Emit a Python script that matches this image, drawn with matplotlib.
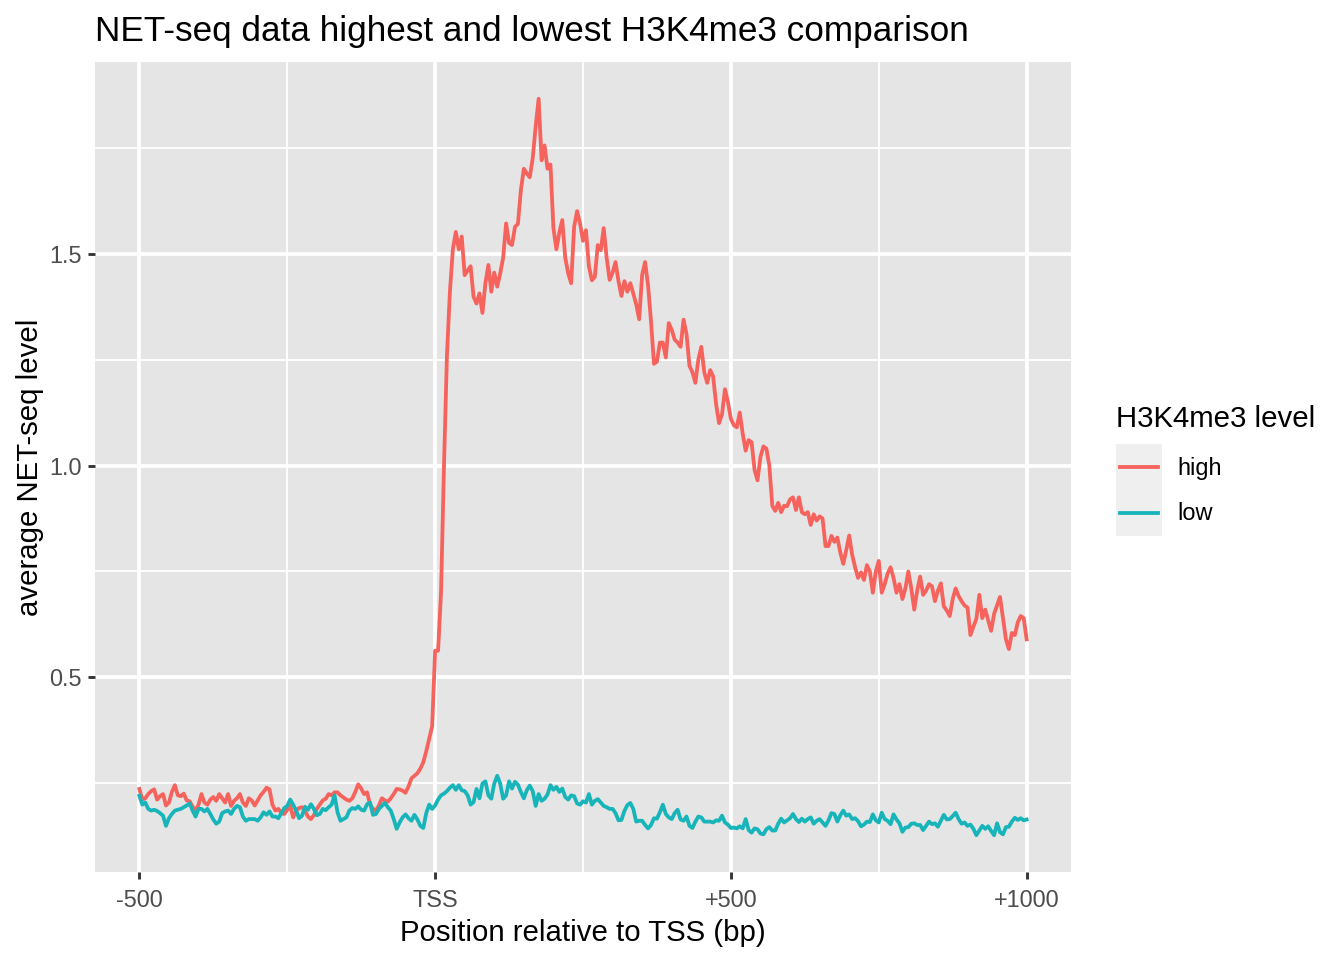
import numpy as np
import matplotlib
matplotlib.use("Agg")
import matplotlib.pyplot as plt

plt.rcParams['font.family'] = ['Liberation Sans', 'DejaVu Sans']

# positions relative to TSS, 5 bp steps
positions = np.arange(-500, 1001, 5)

high = [
    0.237, 0.212, 0.215, 0.225, 0.232, 0.236, 0.212, 0.220, 0.225, 0.198,
    0.205, 0.230, 0.246, 0.222, 0.220, 0.226, 0.210, 0.208, 0.195, 0.186,
    0.200, 0.225, 0.205, 0.200, 0.212, 0.218, 0.209, 0.225, 0.215, 0.205,
    0.225, 0.197, 0.209, 0.215, 0.225, 0.205, 0.197, 0.215, 0.210, 0.198,
    0.210, 0.222, 0.230, 0.240, 0.236, 0.200, 0.186, 0.190, 0.180, 0.178,
    0.188, 0.197, 0.170, 0.186, 0.192, 0.194, 0.185, 0.172, 0.166, 0.175,
    0.190, 0.200, 0.210, 0.214, 0.225, 0.222, 0.229, 0.229, 0.222, 0.217,
    0.212, 0.209, 0.215, 0.230, 0.248, 0.238, 0.225, 0.229, 0.200, 0.190,
    0.186, 0.198, 0.215, 0.210, 0.207, 0.215, 0.225, 0.237, 0.236, 0.233,
    0.228, 0.243, 0.262, 0.268, 0.274, 0.285, 0.300, 0.326, 0.355, 0.385,
    0.563, 0.563, 0.700, 1.000, 1.260, 1.410, 1.510, 1.551, 1.510, 1.540,
    1.449, 1.460, 1.470, 1.398, 1.382, 1.406, 1.360, 1.430, 1.473, 1.410,
    1.455, 1.422, 1.453, 1.490, 1.571, 1.525, 1.520, 1.563, 1.570, 1.650,
    1.700, 1.689, 1.680, 1.725, 1.800, 1.865, 1.720, 1.755, 1.700, 1.710,
    1.560, 1.510, 1.550, 1.579, 1.490, 1.453, 1.430, 1.563, 1.600, 1.571,
    1.530, 1.555, 1.470, 1.437, 1.445, 1.520, 1.508, 1.560, 1.490, 1.438,
    1.455, 1.480, 1.435, 1.400, 1.435, 1.410, 1.430, 1.406, 1.380, 1.345,
    1.450, 1.480, 1.425, 1.340, 1.240, 1.245, 1.290, 1.290, 1.255, 1.336,
    1.320, 1.297, 1.290, 1.280, 1.344, 1.310, 1.235, 1.220, 1.195, 1.250,
    1.280, 1.220, 1.195, 1.225, 1.210, 1.145, 1.100, 1.120, 1.180, 1.150,
    1.110, 1.095, 1.090, 1.125, 1.075, 1.035, 1.060, 1.055, 0.990, 0.965,
    1.020, 1.045, 1.040, 1.000, 0.905, 0.893, 0.912, 0.890, 0.905, 0.904,
    0.920, 0.925, 0.895, 0.925, 0.890, 0.885, 0.890, 0.860, 0.885, 0.870,
    0.880, 0.875, 0.810, 0.810, 0.834, 0.820, 0.830, 0.795, 0.768, 0.800,
    0.835, 0.790, 0.760, 0.735, 0.748, 0.730, 0.765, 0.750, 0.700, 0.750,
    0.775, 0.700, 0.720, 0.745, 0.760, 0.735, 0.700, 0.720, 0.685, 0.710,
    0.750, 0.710, 0.660, 0.705, 0.738, 0.695, 0.705, 0.720, 0.715, 0.680,
    0.705, 0.722, 0.668, 0.658, 0.645, 0.685, 0.710, 0.692, 0.680, 0.670,
    0.665, 0.600, 0.620, 0.638, 0.695, 0.640, 0.660, 0.635, 0.610, 0.650,
    0.670, 0.690, 0.640, 0.590, 0.567, 0.605, 0.600, 0.630, 0.645, 0.640,
    0.590,
]

low = [
    0.221, 0.200, 0.205, 0.190, 0.186, 0.188, 0.185, 0.180, 0.174, 0.150,
    0.168, 0.178, 0.186, 0.188, 0.190, 0.194, 0.198, 0.203, 0.186, 0.172,
    0.190, 0.190, 0.184, 0.190, 0.178, 0.165, 0.155, 0.160, 0.180, 0.184,
    0.186, 0.178, 0.190, 0.197, 0.194, 0.172, 0.162, 0.166, 0.166, 0.166,
    0.162, 0.170, 0.182, 0.176, 0.184, 0.172, 0.172, 0.168, 0.180, 0.192,
    0.197, 0.212, 0.200, 0.186, 0.168, 0.174, 0.195, 0.188, 0.201, 0.190,
    0.175, 0.178, 0.190, 0.187, 0.194, 0.200, 0.222, 0.182, 0.162, 0.166,
    0.170, 0.186, 0.192, 0.190, 0.196, 0.188, 0.186, 0.201, 0.205, 0.176,
    0.178, 0.190, 0.197, 0.204, 0.194, 0.186, 0.166, 0.143, 0.158, 0.170,
    0.177, 0.168, 0.162, 0.176, 0.165, 0.150, 0.145, 0.180, 0.200, 0.190,
    0.198, 0.212, 0.222, 0.226, 0.232, 0.240, 0.246, 0.235, 0.246, 0.234,
    0.232, 0.222, 0.200, 0.206, 0.237, 0.215, 0.250, 0.255, 0.222, 0.214,
    0.250, 0.268, 0.250, 0.214, 0.222, 0.255, 0.238, 0.254, 0.247, 0.230,
    0.215, 0.234, 0.245, 0.232, 0.197, 0.225, 0.209, 0.214, 0.224, 0.246,
    0.235, 0.242, 0.230, 0.238, 0.218, 0.212, 0.222, 0.220, 0.203, 0.200,
    0.208, 0.205, 0.225, 0.200, 0.209, 0.213, 0.205, 0.197, 0.194, 0.190,
    0.190, 0.180, 0.163, 0.164, 0.185, 0.199, 0.204, 0.190, 0.160, 0.162,
    0.162, 0.152, 0.144, 0.152, 0.168, 0.167, 0.182, 0.200, 0.178, 0.170,
    0.166, 0.180, 0.188, 0.165, 0.162, 0.172, 0.150, 0.145, 0.160, 0.172,
    0.170, 0.160, 0.160, 0.160, 0.158, 0.163, 0.162, 0.174, 0.158, 0.153,
    0.145, 0.146, 0.144, 0.149, 0.144, 0.166, 0.140, 0.134, 0.144, 0.142,
    0.132, 0.130, 0.142, 0.147, 0.139, 0.139, 0.155, 0.167, 0.158, 0.163,
    0.168, 0.178, 0.166, 0.159, 0.167, 0.160, 0.166, 0.170, 0.155, 0.162,
    0.166, 0.158, 0.150, 0.163, 0.180, 0.178, 0.160, 0.175, 0.186, 0.174,
    0.177, 0.166, 0.168, 0.161, 0.149, 0.153, 0.160, 0.159, 0.177, 0.163,
    0.158, 0.181, 0.166, 0.162, 0.154, 0.177, 0.165, 0.156, 0.136, 0.146,
    0.147, 0.155, 0.156, 0.152, 0.152, 0.140, 0.150, 0.160, 0.154, 0.156,
    0.148, 0.162, 0.176, 0.165, 0.166, 0.173, 0.181, 0.166, 0.155, 0.158,
    0.150, 0.153, 0.143, 0.128, 0.139, 0.150, 0.143, 0.149, 0.138, 0.128,
    0.156, 0.135, 0.130, 0.147, 0.148, 0.160, 0.169, 0.164, 0.168, 0.163,
    0.165,
]

series_names = ['high', 'low']
series_colors = ['#F6625C', '#17B5BA']
x_ticks = [-500, 0, 500, 1000]
x_labels = ['-500', 'TSS', '+500', '+1000']
x_minor = [-250, 250, 750]
y_ticks = [0.5, 1.0, 1.5]
y_minor = [0.25, 0.75, 1.25, 1.75]

fig = plt.figure(figsize=(7, 5), dpi=192)
ax = fig.add_axes([95 / 1344, 1 - 872 / 960, (1071 - 95) / 1344, (872 - 62) / 960])
ax.set_facecolor('#E5E5E5')

lw = 1.42
for name, vals, col in zip(series_names, [high, low], series_colors):
    ax.plot(positions, vals, color=col, lw=lw, label=name, zorder=3)

ax.margins(x=0.05, y=0.05)
ax.set_xticks(x_ticks)
ax.set_xticklabels(x_labels)
ax.set_xticks(x_minor, minor=True)
ax.set_yticks(y_ticks)
ax.set_yticklabels(['0.5', '1.0', '1.5'])
ax.set_yticks(y_minor, minor=True)
ax.grid(which='major', color='white', lw=1.42)
ax.grid(which='minor', color='white', lw=0.71)
ax.set_axisbelow(True)
for s in ax.spines.values():
    s.set_visible(False)
ax.tick_params(which='major', length=2.75, width=1.07, color='#333333',
               labelsize=8.8, labelcolor='#4D4D4D', pad=2.2)
ax.tick_params(axis='x', which='major', pad=3.6)
ax.tick_params(which='minor', length=0)

ax.set_xlabel('Position relative to TSS (bp)', fontsize=11, color='black', labelpad=2.5)
ax.set_ylabel('average NET-seq level', fontsize=11, color='black', labelpad=2)
ax.set_title('NET-seq data highest and lowest H3K4me3 comparison',
             fontsize=13.2, loc='left', pad=8)

# legend drawn like ggplot's guide
fig.text(1116 / 1344, 1 - 419 / 960, 'H3K4me3 level', fontsize=11, va='center', ha='left')
for i, (name, col) in enumerate(zip(series_names, series_colors)):
    top = 444 + i * 46
    kax = fig.add_axes([1116 / 1344, 1 - (top + 46) / 960, 46 / 1344, 46 / 960])
    kax.set_facecolor('#EFEFEF')
    kax.plot([0.09, 0.91], [0.5, 0.5], color=col, lw=lw)
    kax.set_xlim(0, 1)
    kax.set_ylim(0, 1)
    kax.set_xticks([])
    kax.set_yticks([])
    for s in kax.spines.values():
        s.set_visible(False)
    fig.text(1177 / 1344, 1 - (top + 24) / 960, name, fontsize=8.8, va='center', ha='left')

fig.savefig('out.png', dpi=192, facecolor='white')
